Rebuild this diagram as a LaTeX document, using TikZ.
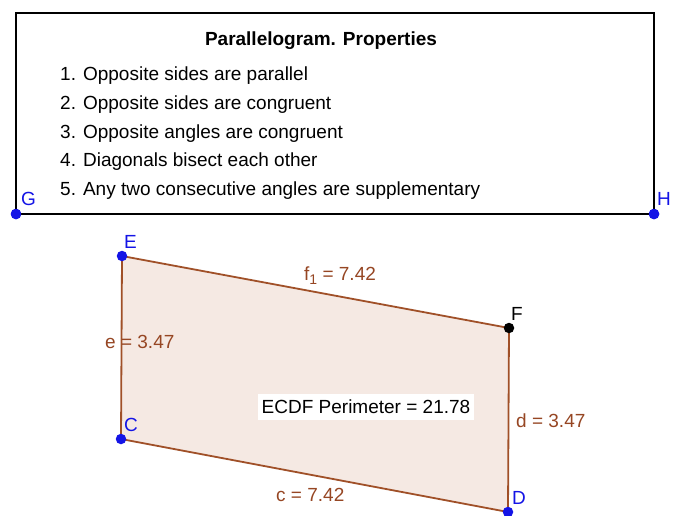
\documentclass[tikz,border=0pt]{standalone}
\usepackage{fontspec}
\setmainfont{Liberation Sans}
\definecolor{edgebrown}{RGB}{160,80,40}
\definecolor{labbrown}{RGB}{150,70,35}
\definecolor{polyfill}{RGB}{245,233,227}
\definecolor{ptblue}{RGB}{20,20,230}
\tikzset{
  pt/.style={circle,fill=ptblue,inner sep=0pt,minimum size=10.5pt},
  ptblack/.style={circle,fill=black,inner sep=0pt,minimum size=10.5pt},
  ptlab/.style={text=ptblue,font=\fontsize{19}{22}\selectfont,inner sep=0pt,anchor=base west},
  edgelab/.style={text=labbrown,font=\fontsize{19}{22}\selectfont,inner sep=0pt,anchor=base west},
  item/.style={font=\fontsize{19}{22}\selectfont,inner sep=0pt,anchor=base west},
  edge/.style={draw=edgebrown,line width=1.8pt}
}
\begin{document}
\begin{tikzpicture}[x=1pt,y=-1pt]
\useasboundingbox (0,0) rectangle (688,515);
\fill[white] (0,0) rectangle (688,515);
% top box
\coordinate (TL) at (16,13);
\coordinate (TR) at (654,13);
\node[pt] (G) at (16,214) {};
\node[pt] (H) at (654,214) {};
\draw[line width=1.8pt] (G.center) -- (TL) -- (TR) -- (H.center) -- (G.center);
\node[pt] at (G) {};
\node[pt] at (H) {};
\node[ptlab] (Gl) at (21,205) {G};
\node[ptlab] (Hl) at (657,205) {H};
\node[font=\bfseries\fontsize{19}{22}\selectfont,inner sep=0pt,anchor=base] (title) at (321,45) {Parallelogram. Properties};
\node[item] (i1) at (60,80) {1. Opposite sides are parallel};
\node[item] (i2) at (60,109) {2. Opposite sides are congruent};
\node[item] (i3) at (60,138) {3. Opposite angles are congruent};
\node[item] (i4) at (60,166) {4. Diagonals bisect each other};
\node[item] (i5) at (60,195) {5. Any two consecutive angles are supplementary};
% parallelogram
\coordinate (Ec) at (122,256);
\coordinate (Fc) at (509,328);
\coordinate (Dc) at (508,512);
\coordinate (Cc) at (121,439);
\fill[polyfill] (Ec) -- (Fc) -- (Dc) -- (Cc) -- cycle;
\draw[edge] (Ec) -- (Fc) -- (Dc) -- (Cc) -- cycle;
\node[pt] (E) at (Ec) {};
\node[ptblack] (F) at (Fc) {};
\node[pt] (D) at (Dc) {};
\node[pt] (C) at (Cc) {};
\node[ptlab] (El) at (124,248) {E};
\node[ptlab,text=black] (Fl) at (511,320) {F};
\node[ptlab] (Cl) at (124,431) {C};
\node[ptlab] (Dl) at (512,504) {D};
\node[edgelab] (f1) at (304,280) {f\raisebox{-0.45ex}{\fontsize{14}{16}\selectfont 1} = 7.42};
\node[edgelab] (el) at (105,348) {e = 3.47};
\node[edgelab] (dl) at (516,427) {d = 3.47};
\node[edgelab] (cl) at (276,501) {c = 7.42};
\node[fill=white,inner xsep=4pt,inner ysep=6pt,font=\fontsize{19}{22}\selectfont] (per) at (366,407) {ECDF Perimeter = 21.78};
\end{tikzpicture}
\end{document}
